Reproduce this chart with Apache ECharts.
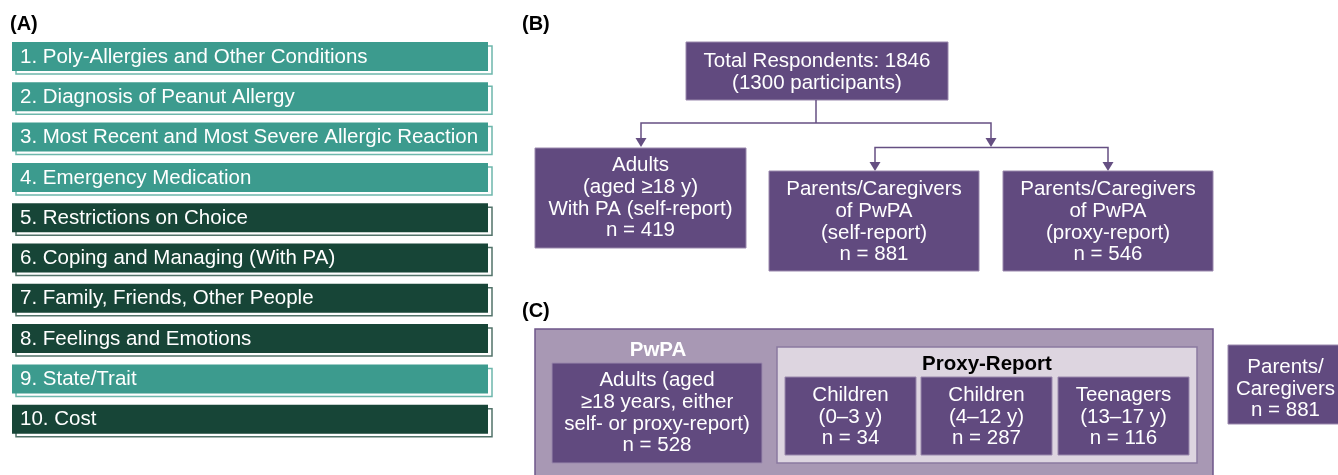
<!DOCTYPE html>
<html>
<head>
<meta charset="utf-8">
<script src="https://cdn.jsdelivr.net/npm/echarts@6/dist/echarts.min.js"></script>
<style>
html,body{margin:0;padding:0;background:#fff;}
#chart{width:1338px;height:475px;}
</style>
</head>
<body>
<div id="chart"></div>
<script>
// ---------- data ----------
const panelLabels = ['(A)', '(B)', '(C)'];
const topicLabels = [
  '1. Poly-Allergies and Other Conditions',
  '2. Diagnosis of Peanut Allergy',
  '3. Most Recent and Most Severe Allergic Reaction',
  '4. Emergency Medication',
  '5. Restrictions on Choice',
  '6. Coping and Managing (With PA)',
  '7. Family, Friends, Other People',
  '8. Feelings and Emotions',
  '9. State/Trait',
  '10. Cost'
];
const topicType = ['A', 'A', 'A', 'A', 'B', 'B', 'B', 'B', 'A', 'B'];
const totalRespondents = 1846;
const totalParticipants = 1300;
const respondentGroups = [
  'Adults\n(aged \u226518 y)\nWith PA (self-report)',
  'Parents/Caregivers\nof PwPA\n(self-report)',
  'Parents/Caregivers\nof PwPA\n(proxy-report)'
];
const respondentN = [419, 881, 546];
const pwpaTitle = 'PwPA';
const proxyTitle = 'Proxy-Report';
const pwpaGroups = [
  'Adults (aged\n\u226518 years, either\nself- or proxy-report)',
  'Children\n(0\u20133 y)',
  'Children\n(4\u201312 y)',
  'Teenagers\n(13\u201317 y)'
];
const pwpaN = [528, 34, 287, 116];
const caregiverLabel = 'Parents/\nCaregivers';
const caregiverN = 881;

// ---------- style ----------
const FONT = '"Liberation Sans", Arial, Helvetica, sans-serif';
const FS = '20.5px ';
const TEAL = '#3c9b8e', TEAL_EDGE = '#6db7ac';
const DARK = '#174537', DARK_EDGE = '#52736a';
const PURPLE = '#614a7f', PURPLE_EDGE = '#9a88ad', LINE = '#654f82';
const OUTER = '#a898b4', OUTER_EDGE = '#6e5689';
const INNER = '#ddd5e0', INNER_EDGE = '#8a79a0';

const g = [];
function text(x, y, s, opt) {
  g.push({
    type: 'text', x: x, y: y, silent: true,
    style: Object.assign({
      text: s, font: FS + FONT, fill: '#fff',
      align: 'center', verticalAlign: 'middle', lineHeight: 21.7
    }, opt || {})
  });
}
function rect(x, y, w, h, fill, stroke, lw) {
  g.push({
    type: 'rect', silent: true,
    shape: { x: x, y: y, width: w, height: h },
    style: { fill: fill, stroke: stroke || null, lineWidth: lw || 0 }
  });
}
function box(x, y, w, h, s, cy) {
  rect(x, y, w, h, PURPLE, PURPLE_EDGE, 1);
  text(x + w / 2, cy !== undefined ? cy : y + h / 2, s);
}
function line(pts) {
  g.push({ type: 'polyline', silent: true, shape: { points: pts },
    style: { stroke: LINE, lineWidth: 1.5, fill: null } });
}
function arrow(x, y) { // tip at (x,y)
  g.push({ type: 'polygon', silent: true,
    shape: { points: [[x - 5.5, y - 9], [x + 5.5, y - 9], [x, y]] },
    style: { fill: LINE } });
}

// panel labels
text(10, 24, panelLabels[0], { font: 'bold 20px ' + FONT, fill: '#000', align: 'left' });
text(522, 24, panelLabels[1], { font: 'bold 20px ' + FONT, fill: '#000', align: 'left' });
text(522, 311, panelLabels[2], { font: 'bold 20px ' + FONT, fill: '#000', align: 'left' });

// ---------- panel A ----------
topicLabels.forEach(function (lab, i) {
  const y = 42 + i * 40.3;
  const isA = topicType[i] === 'A';
  rect(16, y + 4, 476, 28, '#fff', isA ? TEAL_EDGE : DARK_EDGE, 1.5);
  rect(12, y, 476, 29, isA ? TEAL : DARK);
  text(20, y + 15, lab, { align: 'left' });
});

// ---------- panel B ----------
box(686, 42, 262, 58, 'Total Respondents: ' + totalRespondents + '\n(' + totalParticipants + ' participants)', 72);
line([[816, 100], [816, 123]]);
line([[641, 138], [641, 123], [991, 123], [991, 138]]);
arrow(641, 147); arrow(991, 147);
line([[875, 162], [875, 147.5], [1108, 147.5], [1108, 162]]);
arrow(875, 171); arrow(1108, 171);
box(535, 148, 211, 100, respondentGroups[0] + '\nn = ' + respondentN[0], 198);
box(769, 171, 210, 100, respondentGroups[1] + '\nn = ' + respondentN[1], 222);
box(1003, 171, 210, 100, respondentGroups[2] + '\nn = ' + respondentN[2], 222);

// ---------- panel C ----------
rect(535, 329, 678, 150, OUTER, OUTER_EDGE, 1.5);
text(658, 350, pwpaTitle, { font: 'bold 20.5px ' + FONT });
box(552, 363, 210, 100, pwpaGroups[0] + '\nn = ' + pwpaN[0], 413);
rect(777, 347, 420, 116, INNER, INNER_EDGE, 1.5);
text(987, 364, proxyTitle, { font: 'bold 20.5px ' + FONT, fill: '#000' });
const childX = [785, 921, 1058];
for (let i = 1; i < 4; i++) {
  box(childX[i - 1], 377, 131, 78, pwpaGroups[i] + '\nn = ' + pwpaN[i], 417);
}
box(1228, 345, 115, 79, caregiverLabel + '\nn = ' + caregiverN, 389);

const chart = echarts.init(document.getElementById('chart'), null, { renderer: 'canvas' });
chart.setOption({ animation: false, graphic: { elements: g } });
</script>
</body>
</html>
